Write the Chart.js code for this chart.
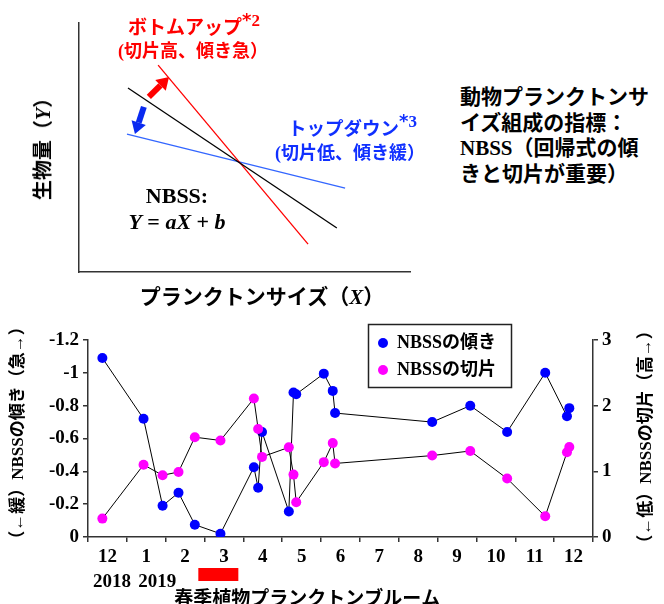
<!DOCTYPE html>
<html lang="ja">
<head>
<meta charset="utf-8">
<title>NBSS</title>
<script src="https://cdn.jsdelivr.net/npm/chart.js@4.4.1/dist/chart.umd.min.js"></script>
<style>
html, body { margin: 0; padding: 0; background: #fff; }
#page { position: relative; width: 664px; height: 604px; overflow: hidden; }
canvas { position: absolute; left: 0; }
.lbl { position: absolute; white-space: nowrap; font-weight: bold;
       font-family: "Liberation Serif", "Noto Sans CJK JP", serif; line-height: 1; color: #000; }
.l { transform: translateY(-50%); }
.c { transform: translate(-50%, -50%); }
.v { transform: translate(-50%, -50%) rotate(-90deg); }
.red { color: #ff0000; }
.blue { color: #1030ff; }
.sup { position: relative; top: -0.5em; font-size: 17px; font-family: "Liberation Serif", serif; }
.sup b { font-family: "DejaVu Sans", sans-serif; font-size: 18px; }
i { font-style: italic; }
#note { left: 460px; top: 85px; font-size: 21px; line-height: 25.5px; }
</style>
</head>
<body>
<div id="page">
  <canvas id="concept" width="440" height="290" style="top:0"></canvas>
  <canvas id="nbss" width="664" height="294" style="top:310px"></canvas>

  <div class="lbl l red" style="left:128px; top:27px; font-size:19px">ボトムアップ<span class="sup"><b>*</b>2</span></div>
  <div class="lbl l red" style="left:118px; top:51px; font-size:18px">(切片高、傾き急）</div>
  <div class="lbl l blue" style="left:288px; top:129px; font-size:18.5px">トップダウン<span class="sup"><b>*</b>3</span></div>
  <div class="lbl l blue" style="left:275px; top:153px; font-size:18px">(切片低、傾き緩）</div>
  <div class="lbl c" style="left:177px; top:196px; font-size:22px">NBSS:</div>
  <div class="lbl c" style="left:177px; top:222px; font-size:22px"><i>Y</i> = <i>aX</i> + <i>b</i></div>
  <div class="lbl v" style="left:43px; top:144px; font-size:20px">生物量（<i>Y</i>）</div>
  <div class="lbl c" style="left:262px; top:297px; font-size:21px">プランクトンサイズ（<i>X</i>）</div>
  <div class="lbl" id="note">動物プランクトンサ<br>イズ組成の指標：<br>NBSS（回帰式の傾<br>きと切片が重要）</div>
</div>

<script>
// ---- conceptual NBSS regression lines (arbitrary units, 0-10) ----
const averageLine  = [{ x: 1.48, y: 7.39 }, { x: 7.79, y: 1.77 }];
const bottomUpLine = [{ x: 2.39, y: 8.31 }, { x: 6.92, y: 1.12 }];
const topDownLine  = [{ x: 1.45, y: 5.54 }, { x: 8.04, y: 3.37 }];
// shift arrows: [tail, tip]
const bottomUpShift = [{ x: 2.11, y: 7.03 }, { x: 2.72, y: 7.83 }];
const topDownShift  = [{ x: 1.96, y: 6.63 }, { x: 1.69, y: 5.54 }];

// ---- monthly NBSS survey, Dec 2018 - Dec 2019 ----
// month axis: 0 = start of Dec 2018, 1 = start of Jan 2019, ...
const monthLabels = ['12', '1', '2', '3', '4', '5', '6', '7', '8', '9', '10', '11', '12'];
const yearLabels  = ['2018', '2019'];
const sampleMonth = [0.37, 1.43, 1.92, 2.33, 2.75, 3.41, 4.27, 4.38, 4.48, 5.17, 5.29,
                     5.36, 6.07, 6.30, 6.36, 8.86, 9.84, 10.79, 11.77, 12.33, 12.39];
const nbssSlope = [-1.09, -0.72, -0.19, -0.27, -0.075, -0.02, -0.425, -0.30, -0.64, -0.155, -0.88,
                   -0.87, -0.995, -0.89, -0.755, -0.70, -0.80, -0.64, -1.0, -0.735, -0.785];
const nbssIntercept = [0.28, 1.10, 0.94, 0.99, 1.52, 1.47, 2.11, 1.645, 1.22, 1.365, 0.95,
                       0.53, 1.14, 1.43, 1.12, 1.24, 1.31, 0.89, 0.315, 1.29, 1.37];
const bloomPeriod = [2.84, 3.87];
const bloomLabel = '春季植物プランクトンブルーム';

const FONT = '"Liberation Serif", "Noto Sans CJK JP", serif';
const AXIS = '#333';

// ---------- conceptual diagram ----------
function drawArrow(ctx, x0, y0, x1, y1, color) {
  const ang = Math.atan2(y1 - y0, x1 - x0);
  const headLen = 12, headHalf = 7.5;
  const bx = x1 - headLen * Math.cos(ang), by = y1 - headLen * Math.sin(ang);
  ctx.save();
  ctx.strokeStyle = color; ctx.fillStyle = color;
  ctx.lineWidth = 6; ctx.lineCap = 'butt';
  ctx.beginPath(); ctx.moveTo(x0, y0); ctx.lineTo(bx, by); ctx.stroke();
  ctx.beginPath();
  ctx.moveTo(x1, y1);
  ctx.lineTo(bx + headHalf * Math.sin(ang), by - headHalf * Math.cos(ang));
  ctx.lineTo(bx - headHalf * Math.sin(ang), by + headHalf * Math.cos(ang));
  ctx.closePath(); ctx.fill();
  ctx.restore();
}

const shiftArrows = {
  id: 'shiftArrows',
  afterDatasetsDraw(chart) {
    const { ctx, scales: { x, y } } = chart;
    [[bottomUpShift, '#ff0000'], [topDownShift, '#0a2af0']].forEach(([a, col]) => {
      drawArrow(ctx, x.getPixelForValue(a[0].x), y.getPixelForValue(a[0].y),
                x.getPixelForValue(a[1].x), y.getPixelForValue(a[1].y), col);
    });
  }
};

const plainAxis = (fit) => ({
  type: 'linear', min: 0, max: 10,
  ticks: { display: false },
  grid: { display: false, drawTicks: false },
  border: { display: true, color: AXIS, width: 1.5 },
  afterFit: fit
});

new Chart(document.getElementById('concept'), {
  type: 'scatter',
  data: {
    datasets: [
      { data: averageLine,  borderColor: '#000',    borderWidth: 1.3 },
      { data: bottomUpLine, borderColor: '#ff0000', borderWidth: 1.3 },
      { data: topDownLine,  borderColor: '#3366ff', borderWidth: 1.3 }
    ].map(d => Object.assign(d, { showLine: true, pointRadius: 0, fill: false }))
  },
  options: {
    responsive: false, animation: false, events: [],
    layout: { padding: { top: 23, right: 30, left: 0, bottom: 0 } },
    plugins: { legend: { display: false }, tooltip: { enabled: false } },
    scales: {
      x: plainAxis(s => { s.height = 18; }),
      y: plainAxis(s => { s.width = 79; })
    }
  },
  plugins: [shiftArrows]
});

// ---------- monthly NBSS chart ----------
function vText(ctx, text, cx, cy) {
  ctx.save();
  ctx.translate(cx, cy);
  ctx.rotate(-Math.PI / 2);
  ctx.textAlign = 'center'; ctx.textBaseline = 'middle';
  ctx.fillText(text, 0, 0);
  ctx.restore();
}

const nbssExtras = {
  id: 'nbssExtras',
  afterDraw(chart) {
    const { ctx, scales: { x } } = chart;
    ctx.save();
    ctx.fillStyle = '#000';
    // year labels under the first two months
    ctx.font = `bold 19px ${FONT}`;
    ctx.textAlign = 'center'; ctx.textBaseline = 'middle';
    ctx.fillText(yearLabels[0], x.getPixelForValue(0.62), 272);
    ctx.fillText(yearLabels[1], x.getPixelForValue(1.78), 272);
    // spring bloom period
    const b0 = x.getPixelForValue(bloomPeriod[0]), b1 = x.getPixelForValue(bloomPeriod[1]);
    ctx.fillStyle = '#ff0000';
    ctx.fillRect(b0, 258, b1 - b0, 13);
    ctx.fillStyle = '#000';
    ctx.textAlign = 'left';
    ctx.fillText(bloomLabel, x.getPixelForValue(2.22), 290);
    // axis titles
    ctx.font = `bold 17px ${FONT}`;
    vText(ctx, '（←緩）NBSSの傾き（急→）', 19, 123);
    vText(ctx, '（←低）NBSSの切片（高→）', 647, 127);
    // legend box
    ctx.fillStyle = '#fff';
    ctx.fillRect(368, 14, 144, 64);
    ctx.strokeStyle = '#222'; ctx.lineWidth = 1.5;
    ctx.strokeRect(368.5, 14.5, 143, 63);
    ctx.font = `bold 18px ${FONT}`;
    ctx.textAlign = 'left'; ctx.textBaseline = 'middle';
    chart.data.datasets.forEach((ds, i) => {
      const cy = 33 + i * 27;
      ctx.fillStyle = ds.pointBackgroundColor;
      ctx.beginPath(); ctx.arc(383, cy, 5, 0, Math.PI * 2); ctx.fill();
      ctx.fillStyle = '#000';
      ctx.fillText(ds.label, 397, cy);
    });
    ctx.restore();
  }
};

const tickFont = { family: FONT, size: 19, weight: 'bold' };
const isWhole = v => Math.abs(v - Math.round(v)) < 1e-6;

new Chart(document.getElementById('nbss'), {
  type: 'line',
  data: {
    datasets: [
      {
        label: 'NBSSの傾き',
        data: sampleMonth.map((m, i) => ({ x: m, y: nbssSlope[i] })),
        yAxisID: 'ySlope',
        pointBackgroundColor: '#0000ff', pointBorderColor: '#0000ff',
        order: 2
      },
      {
        label: 'NBSSの切片',
        data: sampleMonth.map((m, i) => ({ x: m, y: nbssIntercept[i] })),
        yAxisID: 'yIntercept',
        pointBackgroundColor: '#ff00ff', pointBorderColor: '#ff00ff',
        order: 1
      }
    ].map(d => Object.assign(d, {
      borderColor: '#000', borderWidth: 1, tension: 0, fill: false,
      pointRadius: 5, pointBorderWidth: 0
    }))
  },
  options: {
    responsive: false, animation: false, events: [],
    layout: { padding: { top: 30, right: 0, left: 0, bottom: 0 } },
    plugins: { legend: { display: false }, tooltip: { enabled: false } },
    scales: {
      x: {
        type: 'linear', position: 'bottom', min: 0, max: 13,
        ticks: {
          stepSize: 0.5, autoSkip: false, maxRotation: 0, minRotation: 0,
          font: tickFont, color: '#000', padding: 4,
          callback: v => (isWhole(v) ? '' : monthLabels[Math.floor(v)])
        },
        grid: {
          display: true, drawOnChartArea: false, tickLength: 5, lineWidth: 1.5,
          tickColor: c => (c.tick && isWhole(c.tick.value) ? AXIS : 'rgba(0,0,0,0)')
        },
        border: { color: AXIS, width: 1.5 },
        afterFit: s => { s.height = 67; }
      },
      ySlope: {
        type: 'linear', position: 'left', min: -1.2, max: 0, reverse: true,
        ticks: {
          stepSize: 0.2, font: tickFont, color: '#000', padding: 4,
          callback: v => String(Math.round(v * 10) / 10 || 0)
        },
        grid: { drawOnChartArea: false, tickLength: 5, lineWidth: 1.5, color: AXIS },
        border: { color: AXIS, width: 1.5 },
        afterFit: s => { s.width = 88; }
      },
      yIntercept: {
        type: 'linear', position: 'right', min: 0, max: 3,
        ticks: { stepSize: 1, font: tickFont, color: '#000', padding: 4 },
        grid: { drawOnChartArea: false, tickLength: 5, lineWidth: 1.5, color: AXIS },
        border: { color: AXIS, width: 1.5 },
        afterFit: s => { s.width = 71; }
      }
    }
  },
  plugins: [nbssExtras]
});
</script>
</body>
</html>
